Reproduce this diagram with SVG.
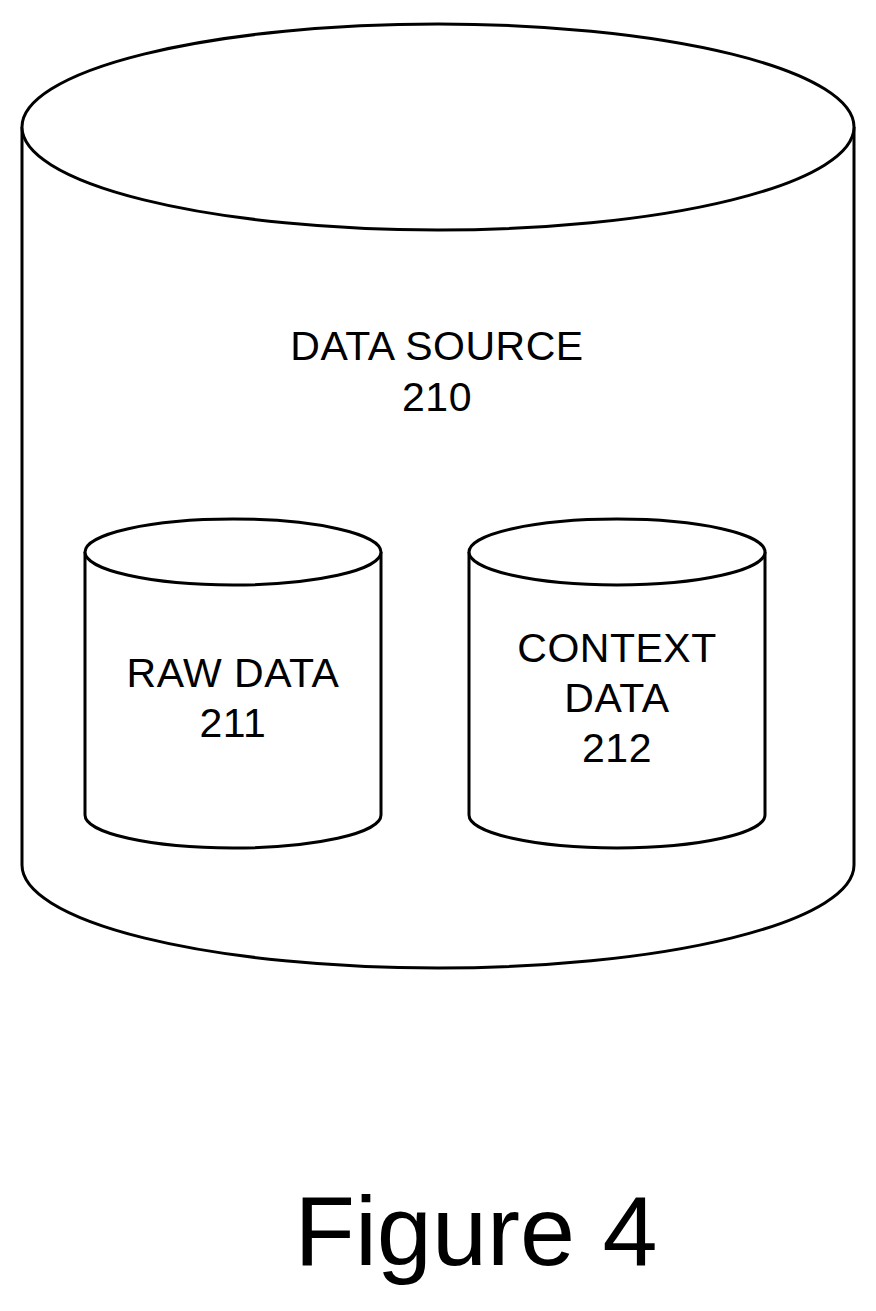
<svg xmlns="http://www.w3.org/2000/svg" width="876" height="1311" viewBox="0 0 876 1311">
<style>
.s{fill:#fff;stroke:#000;stroke-width:3}
.t{font-family:"Liberation Sans",Arial,sans-serif;font-size:41px;text-anchor:middle;fill:#000;letter-spacing:0.5px}
</style>
<rect width="876" height="1311" fill="#fff"/>
<g id="data-source">
<path class="s" d="M22,127 L22,865 A416,103 0 0 0 854,865 L854,127"/>
<ellipse class="s" cx="438" cy="127" rx="416" ry="103"/>
<text class="t" x="437" y="360">DATA SOURCE</text>
<text class="t" x="437" y="411">210</text>
</g>
<g id="raw-data">
<path class="s" d="M85,552 L85,815 A148,33 0 0 0 381,815 L381,552"/>
<ellipse class="s" cx="233" cy="552" rx="148" ry="33"/>
<text class="t" x="233" y="687">RAW DATA</text>
<text class="t" x="233" y="737">211</text>
</g>
<g id="context-data">
<path class="s" d="M469,552 L469,815 A148,33 0 0 0 765,815 L765,552"/>
<ellipse class="s" cx="617" cy="552" rx="148" ry="33"/>
<text class="t" x="617" y="662">CONTEXT</text>
<text class="t" x="617" y="712">DATA</text>
<text class="t" x="617" y="762">212</text>
</g>
<g id="connectors"/>
<text class="t" x="476" y="1265" style="font-size:99px;letter-spacing:0">Figure 4</text>
</svg>
